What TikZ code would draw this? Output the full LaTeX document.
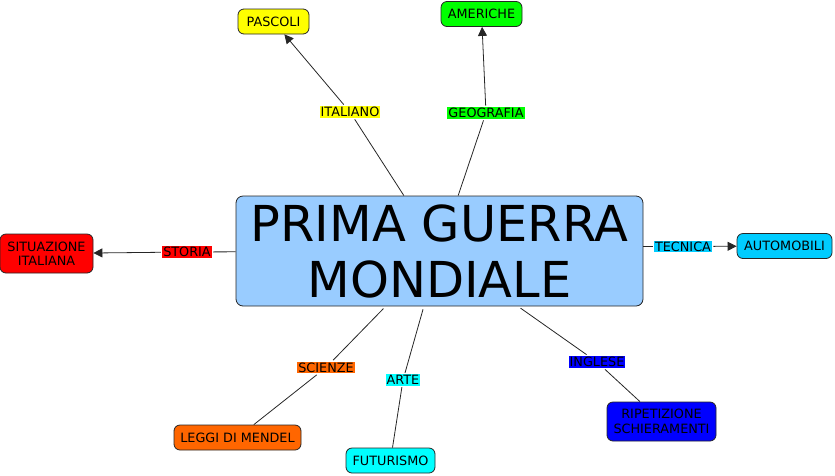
\documentclass[tikz,border=0pt]{standalone}
\usepackage{fontspec}
\setmainfont{DejaVu Sans}
\usetikzlibrary{arrows.meta}
\definecolor{cmain}{HTML}{99CCFF}
\definecolor{cyel}{HTML}{FFFF00}
\definecolor{cgreen}{HTML}{00FF00}
\definecolor{cred}{HTML}{FF0000}
\definecolor{corange}{HTML}{FF6600}
\definecolor{ccyan}{HTML}{00FFFF}
\definecolor{csky}{HTML}{00CCFF}
\definecolor{cblue}{HTML}{0000FF}
\tikzset{
  concept/.style={draw=black!85, line width=0.8pt, rounded corners=6pt, align=center,
    font=\fontsize{12.8}{14.5}\selectfont, inner xsep=3pt, inner ysep=2pt, minimum height=25pt},
  lbl/.style={font=\fontsize{12.8}{13}\selectfont, inner sep=1pt, outer sep=1.5pt},
  link/.style={draw=black!85, line width=0.8pt},
  arr/.style={link, -{Triangle[length=9pt,width=9pt]}}
}
\begin{document}
\begin{tikzpicture}[x=1pt,y=-1pt]
\useasboundingbox (0,0) rectangle (835,475);
\node[concept, fill=cmain, minimum width=407pt, minimum height=110pt, rounded corners=7pt,
  font=\fontsize{49.5}{56}\selectfont, inner ysep=0pt] (main) at (439.5,251) {PRIMA GUERRA\\MONDIALE};

\node[concept, fill=cyel, minimum width=71pt] (pascoli) at (273.5,21.5) {PASCOLI};
\node[concept, fill=cgreen, minimum width=81pt] (americhe) at (481.5,14) {AMERICHE};
\node[concept, fill=cred, minimum height=39pt, minimum width=93pt] (situaz) at (46.5,253.5) {SITUAZIONE\\ITALIANA};
\node[concept, fill=csky, minimum width=95pt] (auto) at (784.5,246) {AUTOMOBILI};
\node[concept, fill=corange, minimum width=127pt] (mendel) at (237.5,437.5) {LEGGI DI MENDEL};
\node[concept, fill=ccyan, minimum width=89pt] (futur) at (390.5,460.5) {FUTURISMO};
\node[concept, fill=cblue, minimum height=39pt, minimum width=109pt] (ripet) at (661.5,421.5) {RIPETIZIONE\\SCHIERAMENTI};

\node[lbl, fill=cyel] (litaliano) at (350,112) {ITALIANO};
\node[lbl, fill=cgreen] (lgeo) at (486,113) {GEOGRAFIA};
\node[lbl, fill=cred] (lstoria) at (187,252) {STORIA};
\node[lbl, fill=csky] (ltecnica) at (683,246.5) {TECNICA};
\node[lbl, fill=corange] (lscienze) at (326,367.5) {SCIENZE};
\node[lbl, fill=ccyan] (larte) at (403,380) {ARTE};
\node[lbl, fill=cblue] (linglese) at (597,362) {INGLESE};

\draw[link] (main) -- (litaliano);
\draw[arr] (litaliano) -- (pascoli);
\draw[link] (main) -- (lgeo);
\draw[arr] (lgeo) -- (americhe);
\draw[link] (main) -- (lstoria);
\draw[arr] (lstoria) -- (situaz);
\draw[link] (main.east |- ltecnica) -- (ltecnica);
\draw[arr] (ltecnica) -- (auto);
\draw[link, shorten <=3pt] (main) -- (lscienze);
\draw[link] (lscienze) -- (mendel);
\draw[link, shorten <=3pt] (main) -- (larte);
\draw[link] (larte) -- (futur);
\draw[link, shorten <=3pt] (main) -- (linglese);
\draw[link] (linglese) -- (ripet);
\end{tikzpicture}
\end{document}
